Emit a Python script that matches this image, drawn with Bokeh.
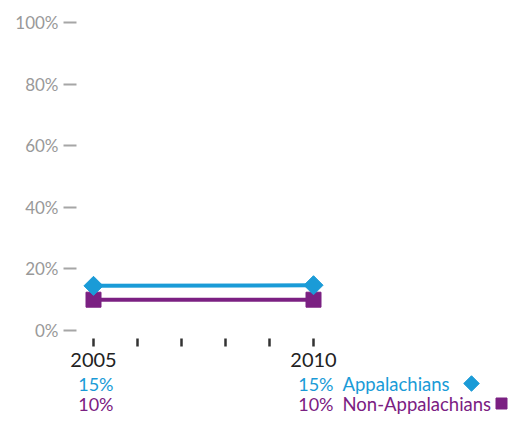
import math
from bokeh.plotting import figure
from bokeh.models import LinearAxis, FixedTicker, Range1d
from bokeh.core.properties import value
from bokeh.embed import file_html
from bokeh.resources import INLINE

# ---- data ----
years = [2005, 2010]
appalachians = [14.5, 14.7]
non_appalachians = [10.0, 10.0]
app_labels = ["15%", "15%"]
non_labels = ["10%", "10%"]
series_names = ["Appalachians", "Non-Appalachians"]
y_ticks = [0, 20, 40, 60, 80, 100]
y_tick_labels = ["0%", "20%", "40%", "60%", "80%", "100%"]
x_ticks = [2005, 2006, 2007, 2008, 2009, 2010]
x_tick_labels = ["2005", "", "", "", "", "2010"]

BLUE = "#1a9bd7"
PURPLE = "#7b2082"
GRAY = "#999999"
FONT = "Lato"

# ---- layout (pixels inside the figure) ----
W, H = 508, 414
X0_PX, X1_PX = 93, 313
Y0_PX, Y100_PX = 330, 22

ppx = (X1_PX - X0_PX) / (years[-1] - years[0])
xs = years[0] - X0_PX / ppx
xe = xs + W / ppx
ppy = (Y0_PX - Y100_PX) / 100.0
ye = 100 + Y100_PX / ppy
ys = ye - H / ppy


def px_x(px):
    return xs + px / ppx


def px_y(py):
    return ye - py / ppy


p = figure(width=W, height=H, x_range=Range1d(xs, xe), y_range=Range1d(ys, ye),
           x_axis_location=None, y_axis_location=None, toolbar_location=None,
           output_backend="svg", min_border=0, outline_line_color=None,
           background_fill_color="white", border_fill_color="white")
p.xgrid.grid_line_color = None
p.ygrid.grid_line_color = None

yaxis = LinearAxis(
    fixed_location=px_x(76),
    ticker=FixedTicker(ticks=y_ticks),
    major_label_overrides={t: l for t, l in zip(y_ticks, y_tick_labels)},
    axis_line_color=None,
    major_tick_out=13, major_tick_in=0,
    major_tick_line_color="#a6a6a6", major_tick_line_width=2,
    minor_tick_line_color=None,
    major_label_standoff=5,
    major_label_text_font=FONT, major_label_text_font_size="17px",
    major_label_text_color=GRAY,
)
p.add_layout(yaxis, "left")

xaxis = LinearAxis(
    fixed_location=px_y(338),
    ticker=FixedTicker(ticks=x_ticks),
    major_label_overrides={t: l for t, l in zip(x_ticks, x_tick_labels)},
    axis_line_color=None,
    major_tick_out=8, major_tick_in=0,
    major_tick_line_color="#333333", major_tick_line_width=2.5,
    minor_tick_line_color=None,
    major_label_standoff=6,
    major_label_text_font=FONT, major_label_text_font_size="20px",
    major_label_text_color="#222222",
)
p.add_layout(xaxis, "below")

# lines and markers
p.line(years, appalachians, line_color=BLUE, line_width=4)
p.line(years, non_appalachians, line_color=PURPLE, line_width=4)
p.scatter(years, non_appalachians, marker="square", size=15, color=PURPLE)
p.scatter(years, appalachians, marker="square", angle=math.pi / 4, size=13.5, color=BLUE)

# value rows under the axis
row1 = px_y(383)
row2 = px_y(403)
p.text(x=years, y=[row1] * len(years), text=app_labels, text_align="right",
       text_baseline="middle", x_offset=20, text_font=value(FONT),
       text_font_size="18px", text_color=BLUE)
p.text(x=years, y=[row2] * len(years), text=non_labels, text_align="right",
       text_baseline="middle", x_offset=20, text_font=value(FONT),
       text_font_size="18px", text_color=PURPLE)

# legend
p.text(x=[years[-1]], y=[row1], text=[series_names[0]], text_align="left",
       text_baseline="middle", x_offset=29, text_font=value(FONT),
       text_font_size="18.5px", text_color=BLUE)
p.text(x=[years[-1]], y=[row2], text=[series_names[1]], text_align="left",
       text_baseline="middle", x_offset=29, text_font=value(FONT),
       text_font_size="18.5px", text_color=PURPLE)
p.scatter([px_x(471)], [row1], marker="square", angle=math.pi / 4, size=11, color=BLUE)
p.scatter([px_x(501)], [row2], marker="square", size=11, color=PURPLE)

open("out.html", "w").write(file_html(p, INLINE))
